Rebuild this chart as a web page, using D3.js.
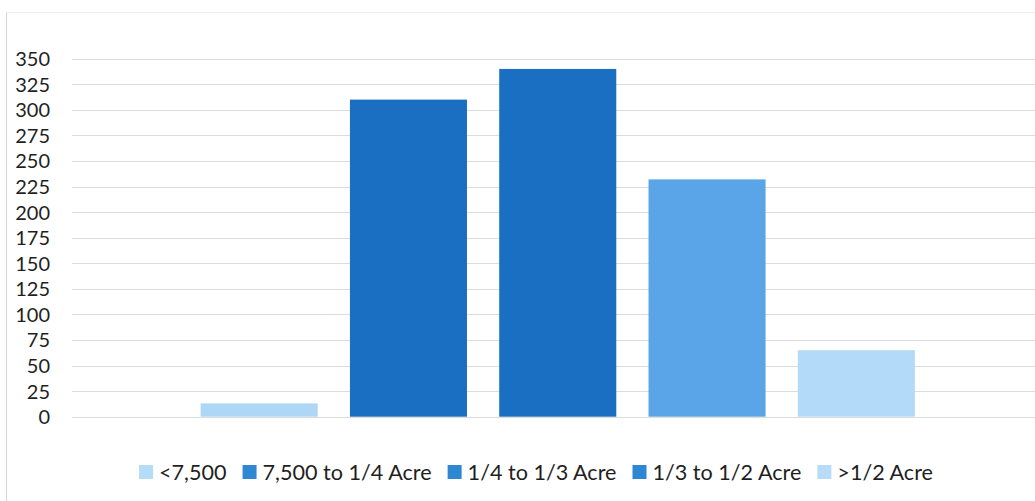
<!DOCTYPE html>
<html><head><meta charset="utf-8">
<script src="https://cdn.jsdelivr.net/npm/d3@7"></script>
<style>body{margin:0;background:#fff;}svg{display:block;}</style>
</head><body>
<svg id="c" width="1035" height="501"></svg>
<script>
const categories = ["<7,500", "7,500 to 1/4 Acre", "1/4 to 1/3 Acre", "1/3 to 1/2 Acre", ">1/2 Acre"];
const values = [13, 310, 340, 232, 65];
const yTicks = [0, 25, 50, 75, 100, 125, 150, 175, 200, 225, 250, 275, 300, 325, 350];
const barColors = ["#aed6f7", "#1b6fc3", "#1b6fc3", "#5aa5e8", "#b3dbf9"];
const legendColors = ["#b4dcf9", "#2f86d3", "#2f86d3", "#2f86d3", "#b8dcf8"];

const svg = d3.select("#c");
const font = "Lato, 'Open Sans', sans-serif";

// frame
svg.append("line").attr("x1", 6.5).attr("x2", 6.5).attr("y1", 12).attr("y2", 501).attr("stroke", "#d6d6d6");
svg.append("line").attr("x1", 6).attr("x2", 1035).attr("y1", 12.5).attr("y2", 12.5).attr("stroke", "#eeeeee");

const y = d3.scaleLinear().domain([0, 350]).range([416.7, 58.7]);
const x = d3.scaleBand().domain(categories).range([184.5, 931]).paddingInner(0.216).paddingOuter(0.108);

// gridlines
svg.append("g").selectAll("line").data(yTicks).join("line")
  .attr("x1", 72).attr("x2", 1035)
  .attr("y1", d => Math.round(y(d)) + 0.5).attr("y2", d => Math.round(y(d)) + 0.5)
  .attr("stroke", "#dcdcdc").attr("stroke-width", 1);

// y axis labels
const yAxis = d3.axisLeft(y).tickValues(yTicks).tickSize(0).tickPadding(0);
const ga = svg.append("g").attr("transform", "translate(50,0)").call(yAxis);
ga.select(".domain").remove();
ga.selectAll("text").attr("font-family", font).attr("font-size", 20).attr("fill", "#1f1f1f").attr("dy", "0.35em");

// bars
svg.append("g").selectAll("rect").data(values).join("rect")
  .attr("x", (d, i) => x(categories[i]))
  .attr("width", x.bandwidth())
  .attr("y", d => y(d))
  .attr("height", d => y(0) - y(d))
  .attr("fill", (d, i) => barColors[i]);

// legend
const lg = svg.append("g");
const items = lg.selectAll("g").data(categories).join("g");
items.append("rect").attr("width", 14).attr("height", 14).attr("y", -7).attr("fill", (d, i) => legendColors[i]);
items.append("text").attr("x", 20).attr("dy", "0.35em").text(d => d)
  .attr("font-family", font).attr("font-size", 21.6).attr("fill", "#1f1f1f");
let cx = 0;
const offs = [];
items.each(function() {
  offs.push(cx);
  const w = 20 + d3.select(this).select("text").node().getComputedTextLength();
  cx += w + 16;
});
const total = cx - 16;
const start = 536 - total / 2;
items.attr("transform", (d, i) => `translate(${start + offs[i]},472)`);
</script>
</body></html>
